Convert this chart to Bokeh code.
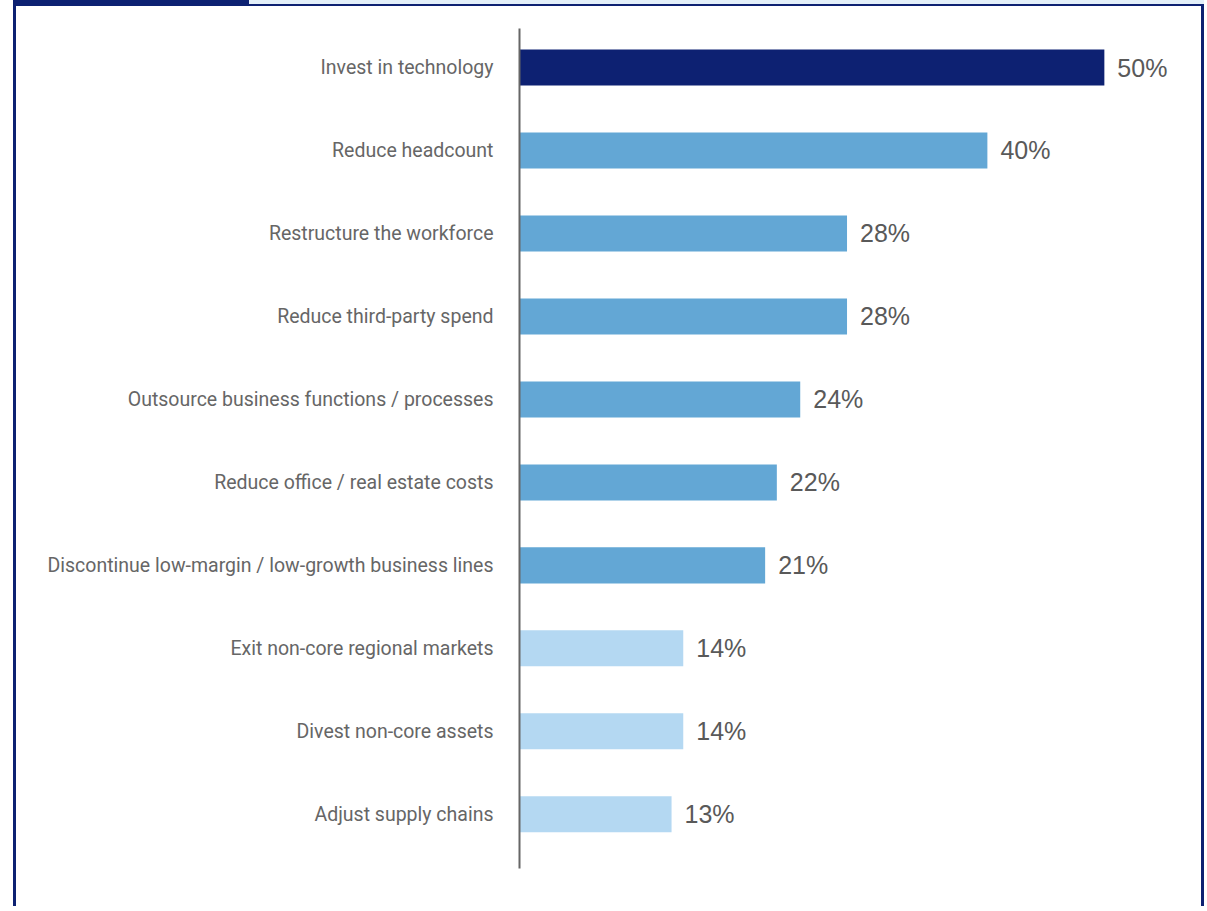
from bokeh.plotting import figure
from bokeh.models import Range1d, FixedTicker, ColumnDataSource
from bokeh.layouts import column
from bokeh.core.properties import value
from bokeh.embed import file_html
from bokeh.resources import INLINE

categories = [
    "Invest in technology",
    "Reduce headcount",
    "Restructure the workforce",
    "Reduce third-party spend",
    "Outsource business functions / processes",
    "Reduce office / real estate costs",
    "Discontinue low-margin / low-growth business lines",
    "Exit non-core regional markets",
    "Divest non-core assets",
    "Adjust supply chains",
]
values = [50, 40, 28, 28, 24, 22, 21, 14, 14, 13]
tiers = ["top", "mid", "mid", "mid", "mid", "mid", "mid", "low", "low", "low"]
tier_colors = {"top": "#0d2172", "mid": "#63a7d5", "low": "#b4d8f2"}
value_labels = [f"{v}%" for v in values]

NAVY = "#0d2172"
TAB_BG = "#e3eff9"
positions = list(range(len(categories)))

src = ColumnDataSource(dict(
    y=positions,
    v=values,
    color=[tier_colors[t] for t in tiers],
    label=value_labels,
))

p = figure(
    width=1185, height=900,
    x_range=Range1d(0, 57.45),
    y_range=Range1d(9.653, -0.47),
    output_backend="svg", toolbar_location=None,
    min_border_left=503, min_border_top=22,
    min_border_bottom=38, min_border_right=10,
    background_fill_color="white", border_fill_color="white",
)

p.hbar(y="y", left=0, right="v", height=0.434, fill_color="color",
       line_color=None, source=src)
p.text(x="v", y="y", text="label", x_offset=13, text_baseline="middle",
       text_align="left", text_font=value("Liberation Sans"),
       text_font_size="25px", text_color="#595959", source=src)

p.yaxis.ticker = FixedTicker(ticks=positions)
p.yaxis.major_label_overrides = {i: c for i, c in enumerate(categories)}
p.yaxis.major_tick_line_color = None
p.yaxis.minor_tick_line_color = None
p.yaxis.major_tick_out = 0
p.yaxis.major_tick_in = 0
p.yaxis.axis_line_color = "#666666"
p.yaxis.axis_line_width = 2
p.yaxis.major_label_standoff = 26
p.yaxis.major_label_text_font = "Roboto"
p.yaxis.major_label_text_font_size = "19.5px"
p.yaxis.major_label_text_color = "#666666"
p.xaxis.visible = False
p.grid.visible = False
p.outline_line_color = None

boxed = column(p, styles={
    "border-left": f"3px solid {NAVY}",
    "border-right": f"3px solid {NAVY}",
    "border-top": f"2px solid {NAVY}",
})

layout = column(boxed, styles={
    "margin-left": "13px",
    "padding-top": "4px",
    "background": f"linear-gradient(to right, {NAVY} 0px, {NAVY} 236px, {TAB_BG} 236px) top left / 100% 4px no-repeat",
})

open("out.html", "w").write(file_html(layout, INLINE))
